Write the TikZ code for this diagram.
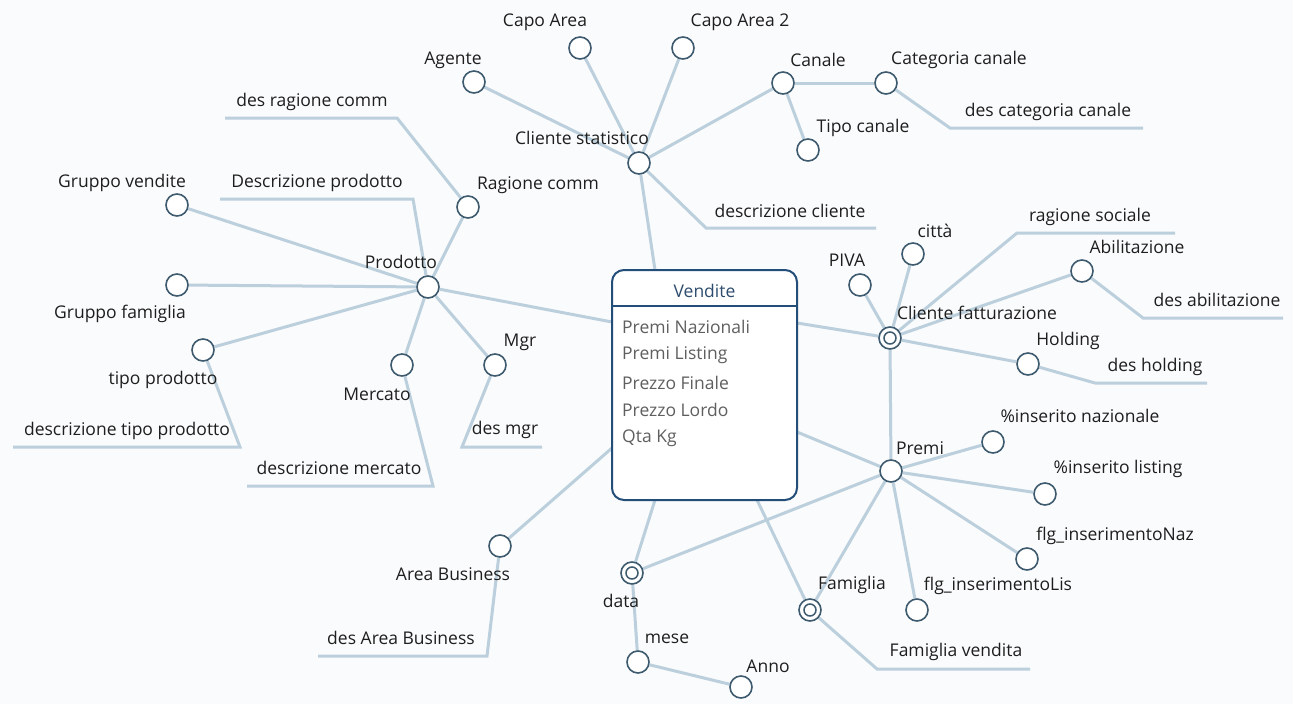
\documentclass[tikz,border=0pt]{standalone}
\usepackage{fontspec}
\setmainfont{Open Sans}
\usetikzlibrary{backgrounds}
\definecolor{bgc}{RGB}{250,251,252}
\definecolor{linkc}{RGB}{188,207,220}
\definecolor{ringc}{RGB}{62,90,110}
\definecolor{boxc}{RGB}{36,78,122}
\definecolor{headc}{RGB}{46,77,110}
\definecolor{attrc}{RGB}{95,95,95}
\definecolor{txtc}{RGB}{30,30,30}
\begin{document}
\begin{tikzpicture}[x=1pt,y=-1pt,
  link/.style={draw=linkc, line width=3pt},
  ent/.style={circle, draw=ringc, line width=1.6pt, fill=white, minimum size=22pt, inner sep=0pt},
  dent/.style={ent, path picture={\draw[ringc, line width=1.5pt] (path picture bounding box.center) circle (6pt);}},
  lbl/.style={font=\fontsize{17.5}{20}\selectfont, text=txtc, inner sep=0pt},
  attr/.style={font=\fontsize{17.5}{20}\selectfont, text=attrc, inner sep=0pt, anchor=west}
]
\useasboundingbox (0,0) rectangle (1293,704);

% central fact table
\node[draw=boxc, line width=2pt, fill=white, rounded corners=12pt,
      minimum width=185pt, minimum height=230pt, inner sep=0pt] (vend) at (704.5,385) {};
\coordinate (vpL) at (612,322);
\coordinate (vpT) at (655,270);
\coordinate (vpR) at (797,323);
\coordinate (vpR2) at (797,432);
\coordinate (vpB2) at (757,500);
\coordinate (vpB1) at (655,500);
\coordinate (vpL2) at (612,448);

% attribute circles
\node[ent] (cs) at (639,163) {};
\node[ent] (ag) at (474,82) {};
\node[ent] (ca1) at (580,48) {};
\node[ent] (ca2) at (683,48) {};
\node[ent] (can) at (783,83) {};
\node[ent] (catc) at (886,83) {};
\node[ent] (tipc) at (808,150) {};
\node[ent] (rc) at (468,207) {};
\node[ent] (gv) at (177,205) {};
\node[ent] (gf) at (177,285) {};
\node[ent] (tp) at (203,350) {};
\node[ent] (pr) at (428,287) {};
\node[ent] (mer) at (402,365) {};
\node[ent] (mgr) at (495,365) {};
\node[dent] (cf) at (890,338) {};
\node[ent] (piva) at (860,285) {};
\node[ent] (cit) at (913,254) {};
\node[ent] (abi) at (1082,271) {};
\node[ent] (hol) at (1028,364) {};
\node[ent] (pre) at (891,471) {};
\node[ent] (insn) at (993,442) {};
\node[ent] (insl) at (1045,494) {};
\node[ent] (flgn) at (1027,559) {};
\node[ent] (flgl) at (917,610) {};
\node[dent] (fam) at (810,610) {};
\node[dent] (dat) at (632,573) {};
\node[ent] (mes) at (638,662) {};
\node[ent] (ann) at (741,687) {};
\node[ent] (ab) at (500,546) {};

% corners of the descriptive attributes
\coordinate (dcl1) at (706,228);   \coordinate (dcl2) at (876,228);
\coordinate (dcc1) at (950,128);   \coordinate (dcc2) at (1143,128);
\coordinate (drc1) at (397,118);   \coordinate (drc2) at (225,118);
\coordinate (dpr1) at (413,199);   \coordinate (dpr2) at (220,199);
\coordinate (dtp1) at (240,447);   \coordinate (dtp2) at (13,447);
\coordinate (dme1) at (433,486);   \coordinate (dme2) at (247,486);
\coordinate (dmg1) at (462,447);   \coordinate (dmg2) at (542,447);
\coordinate (drs1) at (1017,233);  \coordinate (drs2) at (1175,233);
\coordinate (dab1) at (1143,318);  \coordinate (dab2) at (1283,318);
\coordinate (dho1) at (1095,383);  \coordinate (dho2) at (1207,383);
\coordinate (dfv1) at (877,669);   \coordinate (dfv2) at (1030,669);
\coordinate (dar1) at (487,656);   \coordinate (dar2) at (318,656);

% canvas and connectors, kept behind the circles
\begin{scope}[on background layer]
\fill[bgc] (0,0) rectangle (1293,704);
\draw[link] (vpT) -- (cs);
\draw[link] (cs) -- (ag);
\draw[link] (cs) -- (ca1);
\draw[link] (cs) -- (ca2);
\draw[link] (cs) -- (can);
\draw[link] (can) -- (catc);
\draw[link] (can) -- (tipc);
\draw[link] (catc) -- (dcc1) -- (dcc2);
\draw[link] (cs) -- (dcl1) -- (dcl2);

\draw[link] (vpL) -- (pr);
\draw[link] (pr) -- (rc);
\draw[link] (rc) -- (drc1) -- (drc2);
\draw[link] (pr) -- (dpr1) -- (dpr2);
\draw[link] (pr) -- (gv);
\draw[link] (pr) -- (gf);
\draw[link] (pr) -- (tp);
\draw[link] (tp) -- (dtp1) -- (dtp2);
\draw[link] (pr) -- (mer);
\draw[link] (mer) -- (dme1) -- (dme2);
\draw[link] (pr) -- (mgr);
\draw[link] (mgr) -- (dmg1) -- (dmg2);

\draw[link] (vpR) -- (cf);
\draw[link] (cf) -- (piva);
\draw[link] (cf) -- (cit);
\draw[link] (cf) -- (drs1) -- (drs2);
\draw[link] (cf) -- (abi);
\draw[link] (abi) -- (dab1) -- (dab2);
\draw[link] (cf) -- (hol);
\draw[link] (hol) -- (dho1) -- (dho2);
\draw[link] (cf) -- (pre);

\draw[link] (vpR2) -- (pre);
\draw[link] (pre) -- (insn);
\draw[link] (pre) -- (insl);
\draw[link] (pre) -- (flgn);
\draw[link] (pre) -- (flgl);
\draw[link] (pre) -- (fam);
\draw[link] (pre) -- (dat);

\draw[link] (vpB2) -- (fam);
\draw[link] (fam) -- (dfv1) -- (dfv2);
\draw[link] (vpB1) -- (dat);
\draw[link] (dat) -- (mes);
\draw[link] (mes) -- (ann);
\draw[link] (vpL2) -- (ab);
\draw[link] (ab) -- (dar1) -- (dar2);
\end{scope}

% fact table contents
\node[font=\fontsize{17.5}{20}\selectfont, text=headc, inner sep=0pt] (vtitle) at (704.5,291) {Vendite};
\draw[boxc, line width=2.6pt] (vend.west |- 0,306) -- (vend.east |- 0,306);
\node[attr] (a1) at (622,327) {Premi Nazionali};
\node[attr] (a2) at (622,355) {Premi Listing};
\node[attr] (a3) at (622,383) {Prezzo Finale};
\node[attr] (a4) at (622,410) {Prezzo Lordo};
\node[attr] (a5) at (622,438) {Qta Kg};

% labels
\node[lbl] (l1) at (545,22) {Capo Area};
\node[lbl] (l2) at (740,22) {Capo Area 2};
\node[lbl] (l3) at (453,60) {Agente};
\node[lbl] (l4) at (818,60) {Canale};
\node[lbl] (l5) at (959,60) {Categoria canale};
\node[lbl] (l6) at (863,128) {Tipo canale};
\node[lbl] (l7) at (1048,112) {des categoria canale};
\node[lbl] (l8) at (312,102) {des ragione comm};
\node[lbl] (l9) at (582,138) {Cliente statistico};
\node[lbl] (l10) at (317,183) {Descrizione prodotto};
\node[lbl] (l11) at (538,185) {Ragione comm};
\node[lbl] (l12) at (122,183) {Gruppo vendite};
\node[lbl] (l13) at (790,211) {descrizione cliente};
\node[lbl] (l14) at (401,262) {Prodotto};
\node[lbl] (l15) at (120,314) {Gruppo famiglia};
\node[lbl] (l16) at (163,380) {tipo prodotto};
\node[lbl] (l17) at (520,342) {Mgr};
\node[lbl] (l18) at (377,394) {Mercato};
\node[lbl] (l19) at (127,431) {descrizione tipo prodotto};
\node[lbl] (l20) at (505,430) {des mgr};
\node[lbl] (l21) at (339,468) {descrizione mercato};
\node[lbl] (l22) at (847,260) {PIVA};
\node[lbl] (l23) at (935,231) {città};
\node[lbl] (l24) at (1090,217) {ragione sociale};
\node[lbl] (l25) at (1137,247) {Abilitazione};
\node[lbl] (l26) at (1217,300) {des abilitazione};
\node[lbl] (l27) at (977,313) {Cliente fatturazione};
\node[lbl] (l28) at (1068,341) {Holding};
\node[lbl] (l29) at (1155,367) {des holding};
\node[lbl] (l30) at (1080,416) {\%inserito nazionale};
\node[lbl] (l31) at (920,448) {Premi};
\node[lbl] (l32) at (1118,469) {\%inserito listing};
\node[lbl] (l33) at (1115,536) {flg\_inserimentoNaz};
\node[lbl] (l34) at (453,574) {Area Business};
\node[lbl] (l35) at (998,586) {flg\_inserimentoLis};
\node[lbl] (l36) at (852,585) {Famiglia};
\node[lbl] (l37) at (621,601) {data};
\node[lbl] (l38) at (401,638) {des Area Business};
\node[lbl] (l39) at (667,639) {mese};
\node[lbl] (l40) at (956,652) {Famiglia vendita};
\node[lbl] (l41) at (768,666) {Anno};
\end{tikzpicture}
\end{document}
